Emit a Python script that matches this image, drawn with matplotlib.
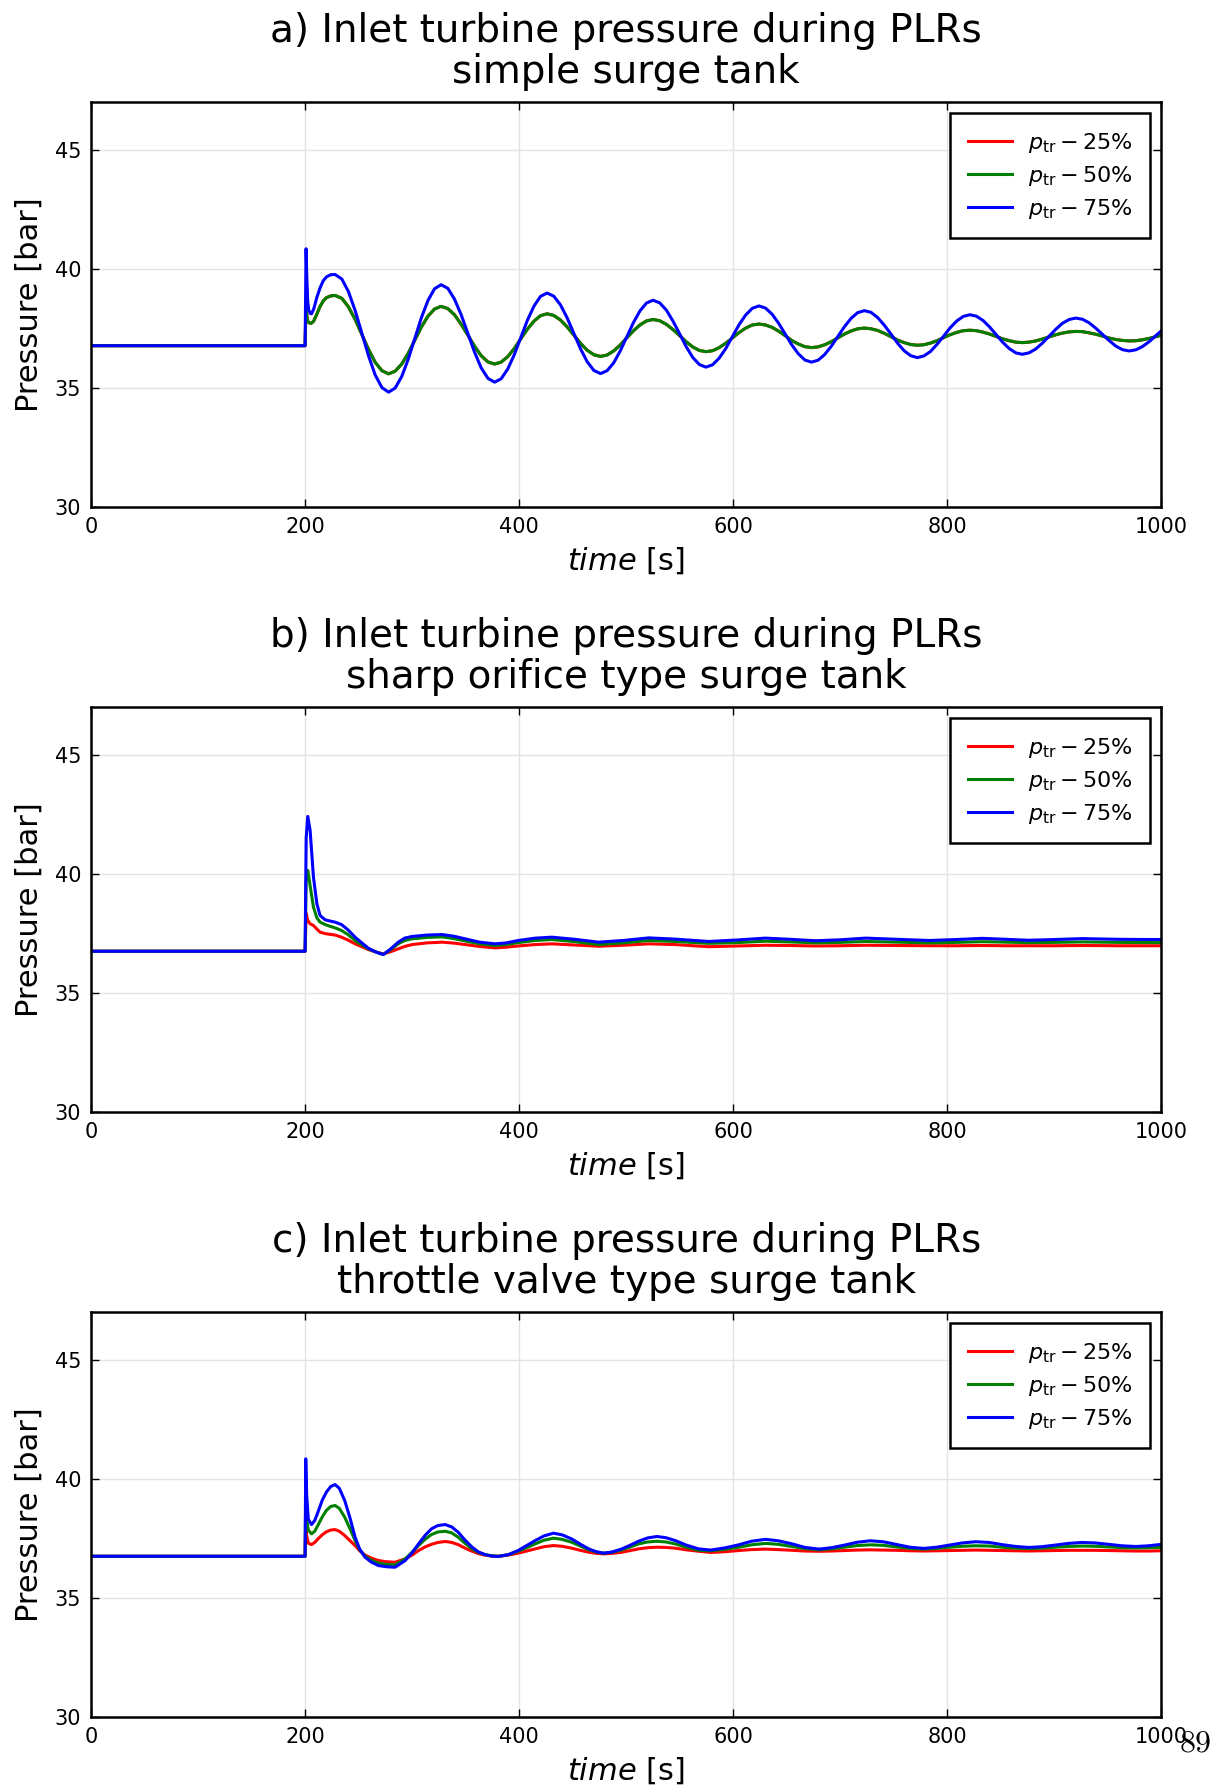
import matplotlib
matplotlib.use('Agg')
from matplotlib import pyplot as plt

# panel a: simple surge tank (red lies under green)
t_a = [0, 200, 200.9, 201.7, 202.5, 203.5, 205, 206, 208, 211, 214, 217, 220, 224, 228,
       234.3, 240.5, 246.8, 253, 259.3, 265.5, 271.8, 278,
       284.1, 290.3, 296.4, 302.5, 308.6, 314.8, 320.9, 327,
       333.3, 339.5, 345.8, 352, 358.3, 364.5, 370.8, 377,
       383.1, 389.3, 395.4, 401.5, 407.6, 413.8, 419.9, 426,
       432.3, 438.5, 444.8, 451, 457.3, 463.5, 469.8, 476,
       482.1, 488.3, 494.4, 500.5, 506.6, 512.8, 518.9, 525,
       531.2, 537.4, 543.6, 549.8, 555.9, 562.1, 568.3, 574.5,
       580.7, 586.9, 593.1, 599.3, 605.4, 611.6, 617.8, 624,
       630.1, 636.3, 642.4, 648.5, 654.6, 660.8, 666.9, 673,
       679.2, 685.4, 691.6, 697.8, 703.9, 710.1, 716.3, 722.5,
       728.7, 734.9, 741.1, 747.3, 753.4, 759.6, 765.8, 772,
       778.1, 784.3, 790.4, 796.5, 802.6, 808.8, 814.9, 821,
       827.1, 833.3, 839.4, 845.5, 851.6, 857.8, 863.9, 870,
       876.3, 882.5, 888.8, 895, 901.3, 907.5, 913.8, 920,
       926.3, 932.5, 938.8, 945, 951.3, 957.5, 963.8, 970,
       976.3, 982.5, 988.8, 995, 1000]
blue_a = [36.77, 36.77, 40.84, 39.5, 38.6, 38.25, 38.12, 38.11, 38.3, 38.8, 39.2, 39.5, 39.66, 39.75, 39.76,
          39.57, 39.04, 38.24, 37.29, 36.34, 35.54, 35.01, 34.82,
          34.99, 35.48, 36.21, 37.08, 37.94, 38.67, 39.16, 39.33,
          39.18, 38.73, 38.07, 37.29, 36.50, 35.84, 35.40, 35.24,
          35.38, 35.79, 36.39, 37.11, 37.83, 38.43, 38.84, 38.98,
          38.85, 38.49, 37.94, 37.29, 36.64, 36.10, 35.73, 35.60,
          35.72, 36.05, 36.55, 37.14, 37.73, 38.23, 38.56, 38.68,
          38.57, 38.27, 37.81, 37.28, 36.74, 36.28, 35.98, 35.87,
          35.97, 36.25, 36.66, 37.16, 37.65, 38.06, 38.34, 38.44,
          38.35, 38.09, 37.71, 37.26, 36.81, 36.43, 36.17, 36.08,
          36.16, 36.40, 36.75, 37.16, 37.57, 37.92, 38.16, 38.24,
          38.17, 37.95, 37.63, 37.26, 36.88, 36.56, 36.35, 36.27,
          36.34, 36.53, 36.83, 37.17, 37.52, 37.81, 38.00, 38.07,
          38.01, 37.83, 37.56, 37.24, 36.92, 36.65, 36.47, 36.41,
          36.47, 36.63, 36.88, 37.17, 37.46, 37.71, 37.87, 37.93,
          37.88, 37.73, 37.50, 37.24, 36.98, 36.75, 36.60, 36.55,
          36.60, 36.74, 36.95, 37.20, 37.40]
green_a = [36.77, 36.77, 38.6, 38.0, 37.8, 37.74, 37.71, 37.72, 37.8, 38.1, 38.42, 38.65, 38.79, 38.86, 38.88,
           38.76, 38.40, 37.87, 37.24, 36.61, 36.07, 35.72, 35.59,
           35.70, 36.00, 36.46, 37.01, 37.55, 38.01, 38.31, 38.42,
           38.33, 38.07, 37.67, 37.21, 36.75, 36.35, 36.09, 36.00,
           36.08, 36.31, 36.65, 37.06, 37.46, 37.80, 38.03, 38.11,
           38.04, 37.85, 37.56, 37.22, 36.87, 36.58, 36.39, 36.32,
           36.38, 36.55, 36.80, 37.10, 37.39, 37.64, 37.81, 37.87,
           37.82, 37.67, 37.45, 37.20, 36.94, 36.72, 36.57, 36.52,
           36.56, 36.69, 36.88, 37.10, 37.32, 37.51, 37.64, 37.68,
           37.64, 37.54, 37.38, 37.19, 36.99, 36.84, 36.73, 36.69,
           36.72, 36.81, 36.94, 37.10, 37.26, 37.39, 37.48, 37.51,
           37.48, 37.41, 37.29, 37.15, 37.01, 36.90, 36.82, 36.79,
           36.81, 36.88, 36.98, 37.11, 37.23, 37.33, 37.40, 37.42,
           37.40, 37.34, 37.26, 37.16, 37.06, 36.98, 36.92, 36.90,
           36.92, 36.97, 37.05, 37.14, 37.23, 37.30, 37.35, 37.37,
           37.36, 37.31, 37.25, 37.17, 37.09, 37.03, 36.99, 36.97,
           36.98, 37.02, 37.08, 37.15, 37.21]
red_a = green_a

# panel b: sharp orifice type surge tank
t_b = [0, 200, 201, 202.5, 204.7, 207.8, 211, 214, 218.7, 223,
       228, 234, 240, 246.7, 253, 259, 266, 273, 280, 287,
       293, 300, 314, 328, 339, 349.5, 363, 377.5, 388, 399,
       415, 430.5, 452, 474, 497, 521, 545, 577, 603, 630,
       653, 677, 700, 723.7, 753, 783, 808, 832.7, 855, 876,
       900, 926, 960, 1000]
blue_b = [36.75, 36.75, 41.5, 42.41, 41.82, 39.86, 38.74, 38.25, 38.07, 38.02,
          37.97, 37.87, 37.65, 37.34, 37.1, 36.88, 36.72, 36.61, 36.85, 37.13,
          37.3, 37.37, 37.43, 37.45, 37.38, 37.27, 37.13, 37.06, 37.1, 37.2,
          37.3, 37.34, 37.25, 37.13, 37.2, 37.31, 37.26, 37.16, 37.22, 37.30,
          37.25, 37.19, 37.23, 37.30, 37.25, 37.2, 37.24, 37.29, 37.25, 37.21,
          37.24, 37.28, 37.25, 37.24]
green_b = [36.75, 36.75, 39.8, 40.14, 39.5, 38.6, 38.15, 37.97, 37.87, 37.8,
           37.73, 37.62, 37.45, 37.2, 37.02, 36.85, 36.72, 36.61, 36.82, 37.06,
           37.2, 37.27, 37.33, 37.35, 37.28, 37.18, 37.06, 36.99, 37.03, 37.11,
           37.2, 37.24, 37.15, 37.03, 37.1, 37.2, 37.16, 37.08, 37.11, 37.17,
           37.14, 37.1, 37.12, 37.16, 37.13, 37.1, 37.12, 37.15, 37.13, 37.11,
           37.12, 37.14, 37.12, 37.11]
red_b = [36.75, 36.75, 38.35, 38.04, 37.9, 37.83, 37.68, 37.55, 37.49, 37.46,
         37.43, 37.34, 37.22, 37.06, 36.94, 36.82, 36.72, 36.64, 36.73, 36.85,
         36.95, 37.03, 37.1, 37.13, 37.09, 37.03, 36.95, 36.89, 36.92, 36.97,
         37.03, 37.06, 37.01, 36.96, 37.0, 37.06, 37.03, 36.94, 36.97, 37.0,
         36.99, 36.97, 36.98, 37.0, 36.99, 36.98, 36.98, 36.99, 36.98, 36.98,
         36.98, 36.99, 36.98, 36.98]

# panel c: throttle valve type surge tank
t_c = [0, 200, 200.6, 201.5, 203, 206, 209, 212, 216, 220,
       224, 228, 232, 237, 242, 246.7, 251, 256, 262, 268.5,
       276, 284, 293.5, 300, 306, 312, 318, 324, 331, 337,
       343, 349, 356, 362, 368, 374, 380.7, 390, 399, 407,
       415, 423, 432, 440, 449, 457, 465, 472, 479, 487,
       496, 504, 511.5, 520, 528.7, 537, 545.8, 556, 567.6, 579,
       592, 605, 617, 630, 642, 655, 667, 680, 692, 704,
       716, 728, 740, 753, 765, 778, 790, 802, 814, 826.5,
       839, 851, 864, 876, 888, 901, 913, 926, 938, 951,
       963, 976, 988, 1000]
blue_c = [36.75, 36.75, 40.84, 39.3, 38.3, 38.08, 38.25, 38.6, 39.1, 39.45,
          39.68, 39.76, 39.6, 39.09, 38.35, 37.55, 37.05, 36.71, 36.5, 36.36,
          36.31, 36.29, 36.57, 36.9, 37.27, 37.62, 37.9, 38.04, 38.08, 37.98,
          37.76, 37.45, 37.13, 36.93, 36.82, 36.76, 36.74, 36.82, 36.99, 37.2,
          37.41, 37.6, 37.72, 37.65, 37.48, 37.26, 37.06, 36.94, 36.88, 36.93,
          37.06, 37.22, 37.38, 37.52, 37.58, 37.53, 37.41, 37.22, 37.06, 37.01,
          37.1, 37.23, 37.38, 37.46, 37.4, 37.27, 37.12, 37.05, 37.11, 37.22,
          37.34, 37.40, 37.36, 37.24, 37.13, 37.08, 37.13, 37.22, 37.31, 37.36,
          37.33, 37.24, 37.16, 37.12, 37.15, 37.22, 37.29, 37.33, 37.31, 37.25,
          37.19, 37.16, 37.19, 37.25]
green_c = [36.75, 36.75, 39.4, 38.3, 37.85, 37.69, 37.8, 38.05, 38.4, 38.68,
           38.84, 38.88, 38.76, 38.39, 37.9, 37.41, 37.02, 36.75, 36.58, 36.46,
           36.41, 36.39, 36.64, 36.92, 37.2, 37.46, 37.66, 37.77, 37.80, 37.73,
           37.55, 37.31, 37.06, 36.91, 36.82, 36.77, 36.75, 36.82, 36.96, 37.11,
           37.27, 37.42, 37.51, 37.46, 37.34, 37.18, 37.02, 36.93, 36.88, 36.92,
           37.02, 37.14, 37.27, 37.35, 37.38, 37.35, 37.27, 37.13, 37.0, 36.98,
           37.04, 37.13, 37.23, 37.29, 37.25, 37.16, 37.07, 37.02, 37.06, 37.13,
           37.2, 37.23, 37.21, 37.14, 37.08, 37.05, 37.08, 37.13, 37.17, 37.19,
           37.18, 37.13, 37.09, 37.07, 37.09, 37.13, 37.16, 37.18, 37.17, 37.14,
           37.11, 37.10, 37.11, 37.12]
red_c = [36.75, 36.75, 38.3, 37.6, 37.3, 37.24, 37.33, 37.48, 37.65, 37.78,
         37.85, 37.87, 37.8, 37.62, 37.4, 37.2, 36.98, 36.8, 36.67, 36.57,
         36.52, 36.5, 36.64, 36.8, 36.99, 37.14, 37.25, 37.33, 37.37, 37.33,
         37.24, 37.1, 36.96, 36.86, 36.8, 36.76, 36.75, 36.8, 36.88, 36.97,
         37.06, 37.15, 37.2, 37.17, 37.09, 37.0, 36.92, 36.87, 36.85, 36.87,
         36.92, 36.99, 37.06, 37.11, 37.13, 37.12, 37.09, 37.02, 36.96, 36.91,
         36.94, 36.99, 37.03, 37.05, 37.03, 37.0, 36.97, 36.96, 36.97, 36.99,
         37.01, 37.02, 37.01, 37.0, 36.98, 36.97, 36.98, 36.99, 37.0, 37.01,
         37.0, 36.99, 36.98, 36.97, 36.98, 36.99, 37.0, 37.0, 37.0, 36.99,
         36.98, 36.97, 36.97, 36.98]

titles = ["a) Inlet turbine pressure during PLRs\nsimple surge tank",
          "b) Inlet turbine pressure during PLRs\nsharp orifice type surge tank",
          "c) Inlet turbine pressure during PLRs\nthrottle valve type surge tank"]
labels = [r'$p_{\mathrm{tr}} - 25\%$', r'$p_{\mathrm{tr}} - 50\%$', r'$p_{\mathrm{tr}} - 75\%$']
xticks = [0, 200, 400, 600, 800, 1000]
yticks = [30, 35, 40, 45]

panels = [(t_a, red_a, green_a, blue_a),
          (t_b, red_b, green_b, blue_b),
          (t_c, red_c, green_c, blue_c)]
bottoms = [0.7166, 0.3784, 0.0402]

fig = plt.figure(figsize=(12.2, 17.89), dpi=100)

for (t, r, g, b), bot, title in zip(panels, bottoms, titles):
    ax = fig.add_axes([0.0746, bot, 0.8774, 0.2264])
    ax.plot(t, r, c='red', lw=2.2, label=labels[0], solid_joinstyle='round')
    ax.plot(t, g, c='green', lw=2.2, label=labels[1], solid_joinstyle='round')
    ax.plot(t, b, c='blue', lw=2.2, label=labels[2], solid_joinstyle='round')
    ax.set_xlim(0, 1000)
    ax.set_ylim(30, 47)
    ax.set_xticks(xticks)
    ax.set_yticks(yticks)
    ax.grid(True, color='#e3e3e3', lw=1)
    ax.set_axisbelow(True)
    ax.tick_params(axis='both', direction='in', top=True, right=True,
                   length=6, width=1, labelsize=15, pad=7)
    for sp in ax.spines.values():
        sp.set_linewidth(1.8)
    ax.set_title(title, fontsize=28, pad=14, linespacing=1.1)
    ax.set_xlabel(r'$\it{time}$ [s]', fontsize=22, labelpad=6)
    ax.set_ylabel("Pressure [bar]", fontsize=22, labelpad=8)
    leg = ax.legend(loc='upper right', fontsize=16, fancybox=False,
                    framealpha=1, edgecolor='black', borderaxespad=0.5,
                    handlelength=2.0, handletextpad=0.7, borderpad=0.8,
                    labelspacing=0.4)
    leg.get_frame().set_linewidth(1.8)

fig.text(0.980, 0.0257, r'$\mathrm{89}$', math_fontfamily='cm',
         fontsize=23, ha='center', va='center')

fig.savefig('out.png', dpi=100)
